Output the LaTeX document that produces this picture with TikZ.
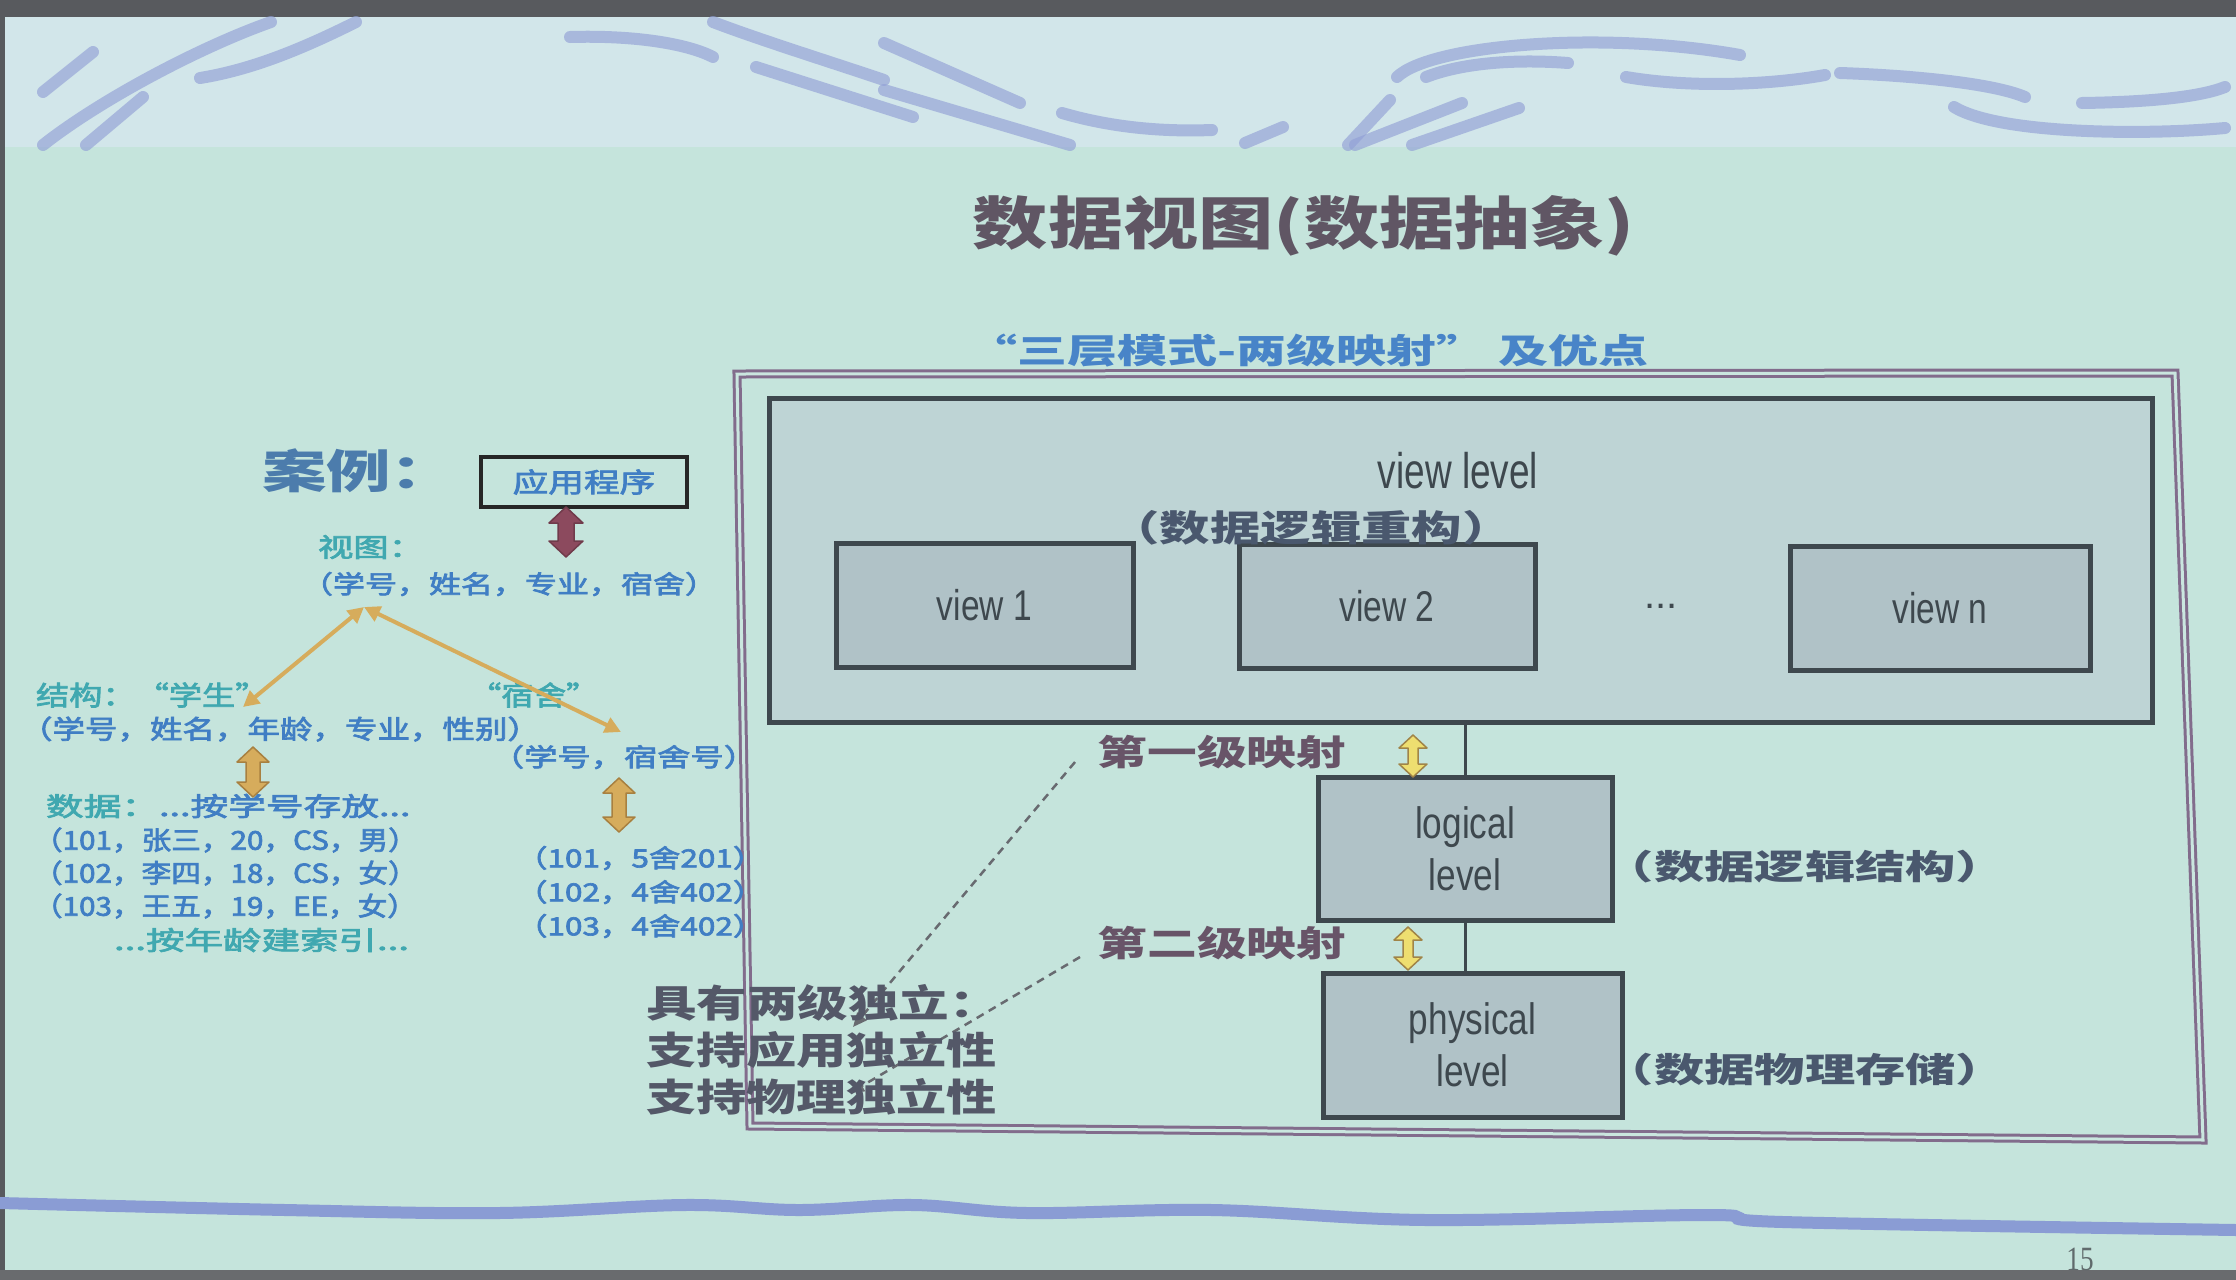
\documentclass[tikz,border=0pt]{standalone}
\usepackage{fontspec}
\usepackage{graphicx}
\usetikzlibrary{arrows.meta}
\newfontfamily\cjk{Noto Sans CJK SC}
\newfontfamily\cjkm[FakeBold=2.5]{Noto Sans CJK SC}
\newfontfamily\latn{Liberation Sans}
\newfontfamily\numf{Liberation Serif}
\newcommand\fs[1]{\fontsize{#1pt}{#1pt}\selectfont}
\newcommand\hs[2]{\scalebox{#1}[1]{#2}}
% vertical block double arrow: fill, outline, x, ytop, ybot, shaft half width, head half width, head length
\newcommand\blockarrow[8]{%
  \filldraw[fill=#1, draw=#2, line width=1.5pt, line join=round]
    ({#3-#6},{#4+#8}) -- ({#3-#7},{#4+#8}) -- (#3,#4) -- ({#3+#7},{#4+#8}) -- ({#3+#6},{#4+#8})
    -- ({#3+#6},{#5-#8}) -- ({#3+#7},{#5-#8}) -- (#3,#5) -- ({#3-#7},{#5-#8}) -- ({#3-#6},{#5-#8}) -- cycle;}

\definecolor{bg}{RGB}{197,228,220}
\definecolor{bandtop}{RGB}{210,230,234}
\definecolor{edgec}{RGB}{88,90,94}
\definecolor{strokec}{RGB}{146,160,214}
\definecolor{wavec}{RGB}{138,156,212}
\definecolor{framec}{RGB}{130,108,140}
\definecolor{boxline}{RGB}{62,72,78}
\definecolor{lvlfill}{RGB}{190,212,213}
\definecolor{viewfill}{RGB}{176,194,199}
\definecolor{titlec}{RGB}{96,86,100}
\definecolor{subc}{RGB}{72,132,200}
\definecolor{mapc}{RGB}{104,84,104}
\definecolor{notec}{RGB}{74,88,110}
\definecolor{indepc}{RGB}{84,88,104}
\definecolor{bluec}{RGB}{64,126,196}
\definecolor{tealc}{RGB}{64,168,176}
\definecolor{casec}{RGB}{76,124,172}
\definecolor{tancol}{RGB}{214,172,92}
\definecolor{tanline}{RGB}{168,128,64}
\definecolor{maroonc}{RGB}{140,74,94}
\definecolor{yelc}{RGB}{238,222,112}
\definecolor{yelline}{RGB}{160,132,72}
\definecolor{dashc}{RGB}{104,106,112}
\definecolor{pagec}{RGB}{96,106,108}

\tikzset{
  txt/.style={inner sep=0pt, outer sep=0pt},
  lvl/.style={draw=boxline, line width=5pt, inner sep=0pt},
  deco/.style={draw=strokec, line width=12pt, line cap=round, opacity=0.65},
  tanarrow/.style={draw=tancol, line width=4pt, {Triangle[length=16pt,width=16pt]}-{Triangle[length=16pt,width=16pt]}},
  dashline/.style={draw=dashc, line width=2.5pt, dash pattern=on 8pt off 6pt, -{Triangle[length=14pt,width=12pt]}},
  conn/.style={draw=boxline, line width=3pt}
}

\begin{document}
\begin{tikzpicture}[x=1pt, y=-1pt]
\useasboundingbox (0,0) rectangle (2236,1280);

% screen background
\fill[bg] (0,0) rectangle (2236,1280);
\fill[bandtop] (0,17) rectangle (2236,147);
\fill[edgec] (0,0) rectangle (2236,17);
\fill[edgec] (0,0) rectangle (5,1280);
\fill[edgec!90] (0,1270) rectangle (2236,1280);

% brush strokes along the top band
\draw[deco] (271,22) .. controls (200,47) and (100,100) .. (43,145);
\draw[deco] (356,22) .. controls (300,50) and (250,70) .. (200,78);
\draw[deco] (93,52) -- (43,92);
\draw[deco] (143,97) -- (86,145);
\draw[deco] (570,37) .. controls (640,35) and (690,45) .. (713,57);
\draw[deco] (713,22) .. controls (760,40) and (840,65) .. (884,80);
\draw[deco] (756,67) -- (913,117);
\draw[deco] (884,43) -- (1020,103);
\draw[deco] (884,90) -- (1070,145);
\draw[deco] (1062,113) .. controls (1110,127) and (1160,132) .. (1212,130);
\draw[deco] (1283,127) -- (1245,143);
\draw[deco] (1397,77) .. controls (1430,45) and (1600,30) .. (1740,55);
\draw[deco] (1426,77) .. controls (1470,60) and (1530,60) .. (1568,63);
\draw[deco] (1626,77) .. controls (1690,88) and (1770,85) .. (1825,75);
\draw[deco] (1390,100) -- (1348,145);
\draw[deco] (1462,103) -- (1355,145);
\draw[deco] (1519,108) -- (1412,145);
\draw[deco] (1840,73) .. controls (1900,75) and (1990,82) .. (2025,97);
\draw[deco] (1954,107) .. controls (2000,135) and (2150,135) .. (2225,128);
\draw[deco] (2082,103) .. controls (2150,102) and (2200,97) .. (2225,87);

% wavy rule along the bottom
\draw[wavec, line width=12pt, line cap=round] plot[smooth, tension=0.6] coordinates
  {(0,1203) (285,1210) (499,1213) (684,1205) (799,1210) (913,1205) (1027,1213) (1212,1210) (1426,1220) (1711,1215) (1783,1222) (2236,1230)};

% headings
\node[txt, text=titlec] (title) at (1304,226) {\cjk\bfseries\fs{57}\hs{1.32}{数据视图(数据抽象)}};
\node[txt, text=subc] (subtitle) at (1308,351) {\cjk\bfseries\fs{34}\hs{1.47}{“三层模式-两级映射” 及优点}};

% outer frame of the three-level schema
\draw[framec, line width=3pt, double=bg!92!white, double distance=3pt, line join=miter]
  (737,374) -- (2175,373) -- (2203,1140) -- (750,1126) -- cycle;

% view level
\node[lvl, fill=lvlfill, minimum width=1383, minimum height=324] (vlevel) at (1460.5,560) {};
\node[txt, text=boxline] (vlevelt) at (1458,471) {\latn\fs{50}\hs{0.74}{view level}};
\node[lvl, fill=viewfill, minimum width=297, minimum height=124] (view1) at (984.5,605) {};
\node[lvl, fill=viewfill, minimum width=296, minimum height=124] (view2) at (1387,606) {};
\node[lvl, fill=viewfill, minimum width=300, minimum height=124] (viewn) at (1940,608) {};
\node[txt, text=boxline] (view1t) at (view1) {\latn\fs{43}\hs{0.78}{view 1}};
\node[txt, text=boxline] (view2t) at (view2) {\latn\fs{43}\hs{0.78}{view 2}};
\node[txt, text=boxline] (viewnt) at (viewn) {\latn\fs{43}\hs{0.78}{view n}};
\node[txt, text=boxline] (dots) at (1661,606) {\latn\fs{40}...};
\node[txt, text=notec] (vnote) at (1311,528) {\cjk\bfseries\fs{36}\hs{1.4}{（数据逻辑重构）}};

% logical and physical levels
\node[lvl, fill=viewfill, minimum width=294, minimum height=143] (logical) at (1465,848.5) {};
\node[lvl, fill=viewfill, minimum width=299, minimum height=144] (physical) at (1472.5,1045) {};
\node[txt, text=boxline, align=center, font={\latn\fs{44}}] (logicalt) at (logical) {\hs{0.8}{logical}\\[8pt]\hs{0.8}{level}};
\node[txt, text=boxline, align=center, font={\latn\fs{44}}] (physicalt) at (physical) {\hs{0.8}{physical}\\[8pt]\hs{0.8}{level}};
\draw[conn] (vlevel.south -| logical.north) -- (logical.north);
\draw[conn] (logical.south) -- (logical.south |- physical.north);
\node[txt, text=notec] (lnote) at (1805,867) {\cjk\bfseries\fs{34}\hs{1.48}{（数据逻辑结构）}};
\node[txt, text=notec] (pnote) at (1805,1070) {\cjk\bfseries\fs{34}\hs{1.48}{（数据物理存储）}};

% the two mappings
\node[txt, text=mapc] (map1) at (1222,752) {\cjk\bfseries\fs{35}\hs{1.42}{第一级映射}};
\node[txt, text=mapc] (map2) at (1222,943) {\cjk\bfseries\fs{35}\hs{1.42}{第二级映射}};
\blockarrow{yelc}{yelline}{1413}{735}{777}{5}{14}{13}
\blockarrow{yelc}{yelline}{1408}{927}{970}{5}{14}{13}

% independence notes with dashed pointers
\coordinate (d1start) at (1075,762);
\coordinate (d1end) at (853,1027);
\coordinate (d2start) at (1080,957);
\coordinate (d2end) at (850,1093);
\draw[dashline] (d1start) -- (d1end);
\draw[dashline] (d2start) -- (d2end);
\node[txt, anchor=west, text=indepc] (ind0) at (646,1003) {\cjk\bfseries\fs{38}\hs{1.33}{具有两级独立：}};
\node[txt, anchor=west, text=indepc] (ind1) at (646,1050) {\cjk\bfseries\fs{38}\hs{1.32}{支持应用独立性}};
\node[txt, anchor=west, text=indepc] (ind2) at (646,1097) {\cjk\bfseries\fs{38}\hs{1.32}{支持物理独立性}};

% worked example on the left
\node[txt, anchor=west, text=casec] (case) at (262,471) {\cjk\bfseries\fs{46}\hs{1.4}{案例：}};
\node[draw=black!85, line width=4pt, minimum width=206, minimum height=50, inner sep=0pt] (app) at (584,482) {};
\node[txt, text=bluec] (appt) at (app) {\cjkm\fs{27}\hs{1.32}{应用程序}};
\blockarrow{maroonc}{maroonc!80!black}{566}{507}{557}{8}{17}{16}

\node[txt, anchor=west, text=tealc] (viewlbl) at (318,547) {\cjkm\fs{26}\hs{1.36}{视图：}};
\node[txt, anchor=west, text=bluec] (viewattr) at (301,584) {\cjkm\fs{25}\hs{1.28}{（学号，姓名，专业，宿舍）}};

\node[txt, anchor=west, text=tealc] (stulbl) at (36,695) {\cjkm\fs{27}\hs{1.23}{结构：“学生”}};
\node[txt, anchor=west, text=tealc] (dormlbl) at (469,695) {\cjkm\fs{27}\hs{1.2}{“宿舍”}};
\node[txt, anchor=west, text=bluec] (stuattr) at (20,729) {\cjkm\fs{26}\hs{1.25}{（学号，姓名，年龄，专业，性别）}};
\node[txt, anchor=west, text=bluec] (dormattr) at (491,757) {\cjkm\fs{25}\hs{1.33}{（学号，宿舍号）}};

\coordinate (apex) at (364,607);
\coordinate (lend) at (243,707);
\coordinate (rend) at (621,732);
\draw[tanarrow] (apex) -- (lend);
\draw[tanarrow] (apex) -- (rend);

\blockarrow{tancol}{tanline}{253}{747}{797}{7}{16}{15}
\blockarrow{tancol}{tanline}{619}{778}{832}{7}{16}{15}

\node[txt, anchor=west, text=bluec] (data0) at (46,806) {\cjkm\fs{26}\hs{1.45}{{\color{tealc}数据：}...按学号存放...}};
\node[txt, anchor=west, text=bluec] (data1) at (33,840) {\cjkm\fs{26}\hs{1.14}{（101，张三，20，CS，男）}};
\node[txt, anchor=west, text=bluec] (data2) at (33,873) {\cjkm\fs{26}\hs{1.14}{（102，李四，18，CS，女）}};
\node[txt, anchor=west, text=bluec] (data3) at (33,906) {\cjkm\fs{26}\hs{1.14}{（103，王五，19，EE，女）}};
\node[txt, anchor=west, text=tealc] (data4) at (114,940) {\cjkm\fs{26}\hs{1.48}{...按年龄建索引...}};

\node[txt, anchor=west, text=bluec] (dorm1) at (516,858) {\cjkm\fs{25}\hs{1.26}{（101，5舍201）}};
\node[txt, anchor=west, text=bluec] (dorm2) at (516,892) {\cjkm\fs{25}\hs{1.26}{（102，4舍402）}};
\node[txt, anchor=west, text=bluec] (dorm3) at (516,926) {\cjkm\fs{25}\hs{1.26}{（103，4舍402）}};

% page number
\node[txt, text=pagec] (page) at (2080,1259) {\numf\fs{34}\hs{0.8}{15}};
\end{tikzpicture}
\end{document}
